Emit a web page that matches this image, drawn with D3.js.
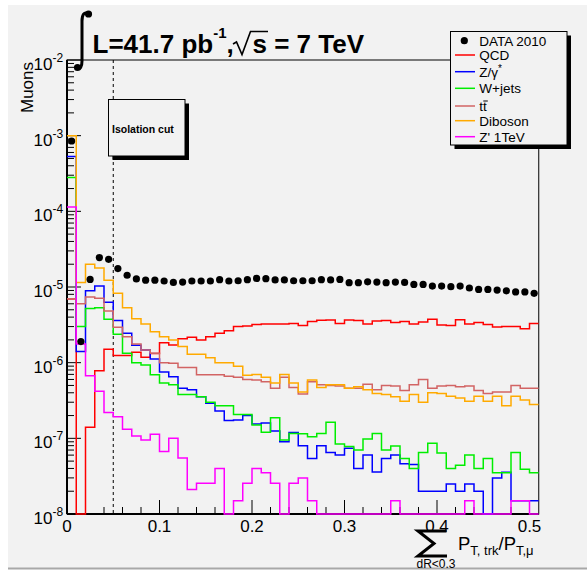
<!DOCTYPE html>
<meta charset="utf-8">
<style>
body { margin: 0; background: #fff; }
text { font-family: "Liberation Sans", Arial, Helvetica, sans-serif; }
</style>
<svg id="chart"></svg>
<script src="https://d3js.org/d3.v7.min.js"></script>
<script>
var width = 587
var height = 571

// bins of 0.01 from 0 to 0.51
var binWidth = 0.01
var xMax = 0.51

var data2010 = [8.5e-4, 1.9e-6, 1.26e-5, 2.45e-5, 2.32e-5, 1.75e-5, 1.43e-5, 1.28e-5, 1.23e-5, 1.23e-5,
  1.2e-5, 1.15e-5, 1.16e-5, 1.2e-5, 1.2e-5, 1.2e-5, 1.25e-5, 1.2e-5, 1.21e-5, 1.25e-5,
  1.3e-5, 1.29e-5, 1.24e-5, 1.24e-5, 1.21e-5, 1.21e-5, 1.21e-5, 1.25e-5, 1.24e-5, 1.26e-5,
  1.14e-5, 1.14e-5, 1.17e-5, 1.16e-5, 1.14e-5, 1.16e-5, 1.15e-5, 1.08e-5, 1.08e-5, 1.03e-5,
  1.03e-5, 1.01e-5, 1.03e-5, 9.7e-6, 9.3e-6, 9.3e-6, 9.1e-6, 8.9e-6, 8.6e-6, 8.6e-6, 8.25e-6]

var qcd = [7e-6, 0, 1.4e-7, 7.8e-7, 1.5e-6, 1.24e-6, 1.24e-6, 1.37e-6, 1.18e-6, 1.32e-6,
  1.84e-6, 1.71e-6, 2.07e-6, 2.17e-6, 2.0e-6, 2.2e-6, 2.45e-6, 2.65e-6, 3.0e-6, 3.05e-6,
  3.2e-6, 3.25e-6, 3.25e-6, 3.25e-6, 3.3e-6, 3.1e-6, 3.5e-6, 3.63e-6, 3.65e-6, 3.3e-6,
  3.65e-6, 3.6e-6, 3.25e-6, 3.55e-6, 3.6e-6, 3.4e-6, 3.5e-6, 3.25e-6, 3.45e-6, 3.75e-6,
  3.15e-6, 3.1e-6, 3.7e-6, 3.25e-6, 3.4e-6, 3.2e-6, 2.95e-6, 3.0e-6, 3.0e-6, 2.8e-6, 3.3e-6]

var zjets = [5.3e-4, 1.4e-6, 8.9e-6, 1.03e-5, 6.3e-6, 3.6e-6, 2.45e-6, 1.7e-6, 1.47e-6, 1.12e-6,
  7.5e-7, 6.5e-7, 4.6e-7, 4.4e-7, 3.55e-7, 2.9e-7, 2.3e-7, 1.72e-7, 1.75e-7, 2.0e-7,
  1.55e-7, 1.6e-7, 1.25e-7, 9e-8, 1.19e-7, 8e-8, 5.4e-8, 8e-8, 6.5e-8, 6e-8,
  7.4e-8, 4e-8, 6e-8, 3.6e-8, 5.4e-8, 6e-8, 4.6e-8, 4.5e-8, 2e-8, 2e-8,
  2e-8, 2.5e-8, 2e-8, 2.5e-8, 2e-8, 0, 3e-8, 3.55e-8, 1.5e-8, 1.5e-8, 1.5e-8]

var wjets = [2.8e-4, 3.0e-6, 5.2e-6, 5.3e-6, 3.75e-6, 2.37e-6, 1.33e-6, 1.0e-6, 9.3e-7, 6.9e-7,
  5.4e-7, 5.1e-7, 3.8e-7, 3.8e-7, 3.55e-7, 3.0e-7, 2.7e-7, 2.7e-7, 2.07e-7, 2.07e-7,
  1.5e-7, 1.2e-7, 1.87e-7, 9.5e-8, 1.16e-7, 1.15e-7, 1.05e-7, 1.16e-7, 1.63e-7, 8.4e-8,
  7.8e-8, 7e-8, 9.8e-8, 1.16e-7, 7e-8, 7.9e-8, 5.4e-8, 4e-8, 6.5e-8, 8.6e-8,
  6.4e-8, 4e-8, 4.4e-8, 6e-8, 4e-8, 5.4e-8, 3.5e-8, 3.5e-8, 6.5e-8, 3.9e-8, 3.5e-8]

var ttbar = [7e-6, 6.0e-6, 7.4e-6, 7.1e-6, 4.8e-6, 2.94e-6, 2.2e-6, 1.77e-6, 1.47e-6, 1.33e-6,
  1.0e-6, 9.8e-7, 8.6e-7, 8.6e-7, 6.9e-7, 6.9e-7, 6.9e-7, 6.6e-7, 6.4e-7, 6.0e-7,
  5.9e-7, 5.6e-7, 4.6e-7, 6.4e-7, 4.7e-7, 3.85e-7, 5.6e-7, 5.1e-7, 5.0e-7, 4.9e-7,
  4.6e-7, 4.6e-7, 5.2e-7, 4.4e-7, 5.0e-7, 4.9e-7, 4.3e-7, 5.1e-7, 6.0e-7, 4.6e-7,
  4.9e-7, 5.0e-7, 4.8e-7, 4.9e-7, 4.3e-7, 3.9e-7, 4.1e-7, 4.1e-7, 5.0e-7, 4.6e-7, 4.6e-7]

var diboson = [1.0e-3, 1.15e-5, 2.0e-5, 1.78e-5, 1.23e-5, 8.25e-6, 5.3e-6, 3.8e-6, 3.25e-6, 2.57e-6,
  2.2e-6, 2.0e-6, 1.63e-6, 1.29e-6, 1.29e-6, 1.16e-6, 1.0e-6, 1.0e-6, 9e-7, 6.8e-7,
  7e-7, 6.4e-7, 5.4e-7, 7e-7, 5.4e-7, 4.1e-7, 5.9e-7, 4.7e-7, 5.1e-7, 5.1e-7,
  4.6e-7, 4.8e-7, 4.4e-7, 3.9e-7, 3.8e-7, 3.55e-7, 3.1e-7, 3.8e-7, 3.0e-7, 4.0e-7,
  3.9e-7, 3.6e-7, 3.4e-7, 3.1e-7, 3.6e-7, 3.1e-7, 3.6e-7, 2.7e-7, 3.6e-7, 3.2e-7, 2.8e-7]

var zprime = [1.14e-4, 1.77e-6, 6.7e-7, 4.2e-7, 2.2e-7, 1.93e-7, 1.32e-7, 1.07e-7, 9.5e-8, 1.13e-7,
  6.7e-8, 1.0e-7, 5.5e-8, 2.1e-8, 2.55e-8, 2.55e-8, 4.0e-8, 0, 1.5e-8, 2.55e-8,
  4.0e-8, 3.5e-8, 2.55e-8, 0, 2.55e-8, 3.0e-8, 1.5e-8, 0, 0, 0,
  0, 0, 0, 0, 0, 1.5e-8, 0, 0, 0, 0,
  0, 0, 0, 1.5e-8, 0, 0, 0, 0, 1.5e-8, 1.5e-8, 0]

var seriesNames = ['QCD', 'Z/γ*', 'W+jets', 'tt', 'Diboson', "Z' 1TeV"]
var seriesValues = [qcd, zjets, wjets, ttbar, diboson, zprime]
var seriesColors = ['#ff0000', '#0000ff', '#00ee00', '#d26464', '#ffaa00', '#ff00ff']
var dataName = 'DATA 2010'

var yExps = [-8, -7, -6, -5, -4, -3, -2]
var xTickLabels = ['0', '0.1', '0.2', '0.3', '0.4', '0.5']

var svg = d3.select('#chart').attr('width', width).attr('height', height)

// pad (light grey canvas)
svg.append('rect').attr('width', width).attr('height', height).attr('fill', '#ffffff')
svg.append('rect').attr('x', 8).attr('y', 5).attr('width', width - 8).attr('height', 563).attr('fill', '#f2f2f2')
svg.append('rect').attr('x', 8).attr('y', 567.5).attr('width', width - 8).attr('height', 2).attr('fill', '#a8a8a8')

var frame = { left: 67, right: 538.75, top: 60, bottom: 514 }

var x = d3.scaleLinear().domain([0, xMax]).range([frame.left, frame.right])
var y = d3.scaleLog().domain([1e-8, 1e-2]).range([frame.bottom, frame.top])

svg.append('defs').append('clipPath').attr('id', 'clip')
  .append('rect').attr('x', frame.left).attr('y', frame.top - 1)
  .attr('width', frame.right - frame.left).attr('height', frame.bottom - frame.top + 2.5)

// axes ticks
var axisG = svg.append('g')
y.ticks().forEach(function (t) {
  var m = Math.round(t / Math.pow(10, Math.floor(Math.log10(t) + 1e-9)))
  var len = m === 1 ? 14 : 7
  axisG.append('line')
    .attr('x1', frame.left).attr('x2', frame.left + len)
    .attr('y1', y(t)).attr('y2', y(t))
    .attr('stroke', '#000').attr('stroke-width', 1)
})
d3.range(0, 26).forEach(function (i) {
  var v = i * 0.02
  var len = i % 5 === 0 ? 14 : 7
  axisG.append('line')
    .attr('x1', x(v)).attr('x2', x(v))
    .attr('y1', frame.bottom).attr('y2', frame.bottom - len)
    .attr('stroke', '#000').attr('stroke-width', 1)
})

// frame
svg.append('rect')
  .attr('x', frame.left).attr('y', frame.top)
  .attr('width', frame.right - frame.left).attr('height', frame.bottom - frame.top)
  .attr('fill', 'none').attr('stroke', '#000').attr('stroke-width', 1)
svg.append('line').attr('x1', frame.left).attr('x2', frame.left)
  .attr('y1', frame.top).attr('y2', frame.bottom).attr('stroke', '#000').attr('stroke-width', 2)
svg.append('line').attr('x1', frame.left).attr('x2', frame.right)
  .attr('y1', frame.bottom).attr('y2', frame.bottom).attr('stroke', '#000').attr('stroke-width', 2)

// y tick labels
yExps.forEach(function (e) {
  var yy = y(Math.pow(10, e))
  var t = svg.append('text').attr('x', 33.5).attr('y', yy + 10).attr('font-size', 17)
  t.append('tspan').text('10')
  t.append('tspan').attr('dy', -8).attr('font-size', 12).text('-' + (-e))
})

// x tick labels
xTickLabels.forEach(function (lab, i) {
  svg.append('text').attr('x', x(i * 0.1)).attr('y', 532)
    .attr('text-anchor', 'middle').attr('font-size', 17).text(lab)
})

// isolation cut line
svg.append('line')
  .attr('x1', x(0.05)).attr('x2', x(0.05))
  .attr('y1', frame.top).attr('y2', frame.bottom)
  .attr('stroke', '#000').attr('stroke-width', 1).attr('stroke-dasharray', '3,3')

// histograms
var histG = svg.append('g').attr('clip-path', 'url(#clip)')
var stepLine = d3.line()
  .x(function (d) { return x(d[0]) })
  .y(function (d) { return y(Math.max(d[1], 1e-8)) })
  .curve(d3.curveStepAfter)

seriesValues.forEach(function (vals, k) {
  var pts = vals.map(function (v, i) { return [i * binWidth, v] })
  pts.push([vals.length * binWidth, vals[vals.length - 1]])
  histG.append('path')
    .attr('d', stepLine(pts))
    .attr('fill', 'none')
    .attr('stroke', seriesColors[k])
    .attr('stroke-width', 1.5)
})

// data points
svg.append('g').selectAll('circle')
  .data(data2010)
  .enter().append('circle')
  .attr('cx', function (d, i) { return x((i + 0.5) * binWidth) })
  .attr('cy', function (d) { return y(d) })
  .attr('r', 3.6)
  .attr('fill', '#000')

// isolation cut box
svg.append('rect').attr('x', 112.5).attr('y', 103.5).attr('width', 76.5).attr('height', 56.5).attr('fill', '#000')
svg.append('rect').attr('x', 108.5).attr('y', 99.5).attr('width', 76.5).attr('height', 56.5)
  .attr('fill', '#f2f2f2').attr('stroke', '#000').attr('stroke-width', 1)
svg.append('text').attr('x', 112).attr('y', 133).attr('font-size', 10.5).attr('font-weight', 'bold').text('Isolation cut')

// legend
var lg = { x: 450.5, y: 31.5, w: 116.5, h: 113.5 }
svg.append('rect').attr('x', lg.x + 4).attr('y', lg.y + 4).attr('width', lg.w).attr('height', lg.h).attr('fill', '#000')
svg.append('rect').attr('x', lg.x).attr('y', lg.y).attr('width', lg.w).attr('height', lg.h)
  .attr('fill', '#f2f2f2').attr('stroke', '#000').attr('stroke-width', 1)
svg.append('circle').attr('cx', 464.3).attr('cy', 40.7).attr('r', 3.6).attr('fill', '#000')
svg.append('text').attr('x', 479.3).attr('y', 46).attr('font-size', 13.5).text(dataName)

var legendY = [55, 71.7, 88.3, 106, 120.7, 136.7]
seriesNames.forEach(function (name, k) {
  var ly = legendY[k]
  svg.append('line').attr('x1', 455).attr('x2', 475).attr('y1', ly).attr('y2', ly)
    .attr('stroke', seriesColors[k]).attr('stroke-width', 1.5)
  var t = svg.append('text').attr('x', 479.3).attr('y', ly + 5).attr('font-size', 13.5)
  if (name === 'Z/γ*') {
    t.append('tspan').text('Z/γ')
    t.append('tspan').attr('dy', -5).attr('font-size', 10).text('*')
  } else {
    t.text(name)
  }
  if (name === 'tt') {
    svg.append('line').attr('x1', 483.3).attr('x2', 487.8).attr('y1', ly - 5).attr('y2', ly - 5)
      .attr('stroke', '#000').attr('stroke-width', 1)
  }
})

// title: integral L = 41.7 pb^-1, sqrt(s) = 7 TeV
svg.append('path')
  .attr('d', 'M88.5,14 C84,11 82,15 82,21 L82,61 C82,67 80,70 77.5,68')
  .attr('fill', 'none').attr('stroke', '#000').attr('stroke-width', 3)
svg.append('circle').attr('cx', 88.5).attr('cy', 14).attr('r', 3.6).attr('fill', '#000')
svg.append('circle').attr('cx', 77.5).attr('cy', 67.5).attr('r', 3.6).attr('fill', '#000')

var title = svg.append('text').attr('x', 92.5).attr('y', 53).attr('font-size', 26).attr('font-weight', 'bold')
title.append('tspan').text('L=41.7 pb')
title.append('tspan').attr('dy', -15).attr('font-size', 15).text('-1')
title.append('tspan').attr('dy', 15).attr('font-size', 26).text(',')

svg.append('path')
  .attr('d', 'M233,44 L236.5,42 L242,54.5 L250.5,31.5 L268,31.5')
  .attr('fill', 'none').attr('stroke', '#000').attr('stroke-width', 1.6)
svg.append('text').attr('x', 252.5).attr('y', 53).attr('font-size', 26).attr('font-weight', 'bold')
  .text('s = 7 TeV')

// y axis title
svg.append('text')
  .attr('transform', 'translate(33,62) rotate(-90)')
  .attr('text-anchor', 'end').attr('font-size', 17).text('Muons')

// x axis title
svg.append('path')
  .attr('d', 'M446.5,531 L418,531 L434,543.5 L418,556 L447,556')
  .attr('fill', 'none').attr('stroke', '#000').attr('stroke-width', 3)
svg.append('text').attr('x', 416.5).attr('y', 567.5).attr('font-size', 12).text('dR<0.3')
var xt = svg.append('text').attr('x', 458).attr('y', 550).attr('font-size', 18.5)
xt.append('tspan').text('P')
xt.append('tspan').attr('dy', 5).attr('font-size', 13).text('T, trk')
xt.append('tspan').attr('dy', -5).attr('font-size', 18.5).text('/P')
xt.append('tspan').attr('dy', 5).attr('font-size', 13).text('T,μ')
</script>
